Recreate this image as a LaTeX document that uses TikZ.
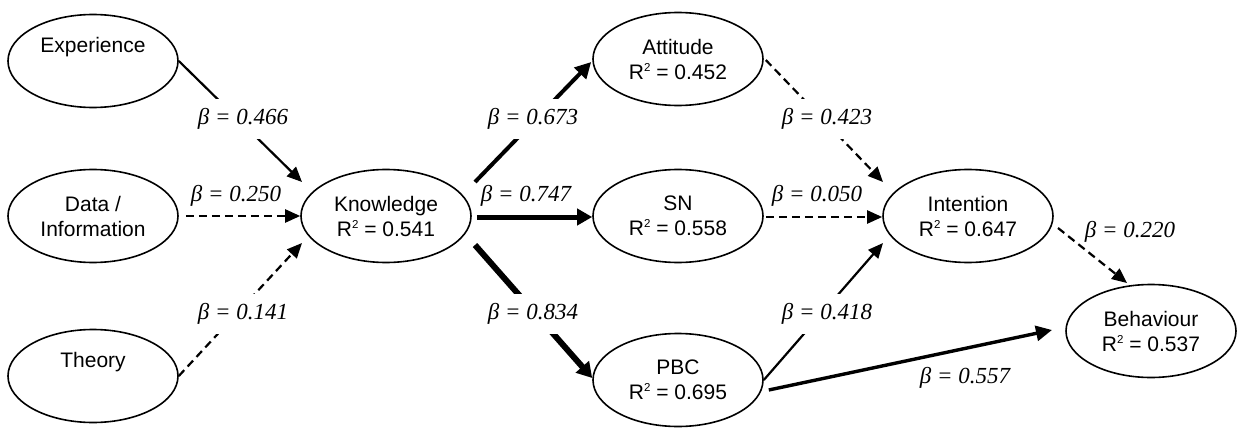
\documentclass[tikz,border=0pt]{standalone}
\usepackage{fontspec}
\setmainfont{Liberation Sans}
\newfontfamily\lblfont{Liberation Serif}
\usetikzlibrary{shapes.geometric,arrows.meta,calc}
\newcommand{\rsq}{R\raisebox{8pt}{\fontsize{11.5}{12}\selectfont 2}}
\begin{document}
\begin{tikzpicture}[x=1pt,y=-1pt,
  var/.style={ellipse,draw,line width=1.6pt,minimum width=170pt,minimum height=93pt,inner sep=0pt,align=center,font=\fontsize{21}{25}\selectfont},
  coef/.style={font=\lblfont\itshape\fontsize{23}{26}\selectfont,inner sep=2pt,fill=white},
  cut/.style={coef,inner ysep=9pt},
  dsh/.style={dash pattern=on 8pt off 5pt},
  aone/.style={line width=2.2pt,-{Triangle[length=15pt,width=13pt]}},
  abeh/.style={line width=3.4pt,-{Triangle[length=16pt,width=15pt]}},
  aatt/.style={line width=4pt,-{Triangle[length=16pt,width=16pt]}},
  asn/.style={line width=5pt,-{Triangle[length=15pt,width=16pt]}},
  apbc/.style={line width=6pt,-{Triangle[length=15pt,width=17pt]}},
]
\useasboundingbox (0,0) rectangle (1243,428);
\fill[white] (0,0) rectangle (1243,428);

\node[var] (exp) at (93,61) {Experience\\\strut};
\node[var] (data) at (93,216) {Data /\\Information};
\node[var] (theo) at (93,376) {Theory\\\strut};
\node[var] (know) at (386,216) {Knowledge\\\rsq{} = 0.541};
\node[var] (att) at (678,59) {Attitude\\\rsq{} = 0.452};
\node[var] (sn) at (678,216) {SN\\\rsq{} = 0.558};
\node[var] (pbc) at (678,380) {PBC\\\rsq{} = 0.695};
\node[var] (int) at (968,216) {Intention\\\rsq{} = 0.647};
\node[var] (beh) at (1151,331) {Behaviour\\\rsq{} = 0.537};

\draw[aone] (exp.east) -- ($(know)+(-84,-34)$);
\draw[aone,dsh] ($(data.east)+(7,0)$) -- (know.west);
\draw[aone,dsh] (theo.east) -- ($(know)+(-84,27)$);
\draw[aatt] ($(know)+(89,-34)$) -- ($(att.west)+(-1,3)$);
\draw[asn] ($(know.east)+(5,1)$) -- ($(sn.west)+(0,1)$);
\draw[apbc] ($(know)+(89,29)$) -- ($(pbc.west)+(0,-2)$);
\draw[aone,dsh] ($(att.east)+(2,1)$) -- ($(int)+(-85,-34)$);
\draw[aone,dsh] ($(sn.east)+(2,1)$) -- ($(int.west)+(0,1)$);
\draw[aone] (pbc.east) -- ($(int)+(-85,27)$);
\draw[abeh] ($(pbc.east)+(5,10)$) -- ($(beh)+(-99,-1)$);
\draw[aone,dsh] ($(int)+(90,12)$) -- ($(beh)+(-24,-48)$);

\node[cut] (l1) at (243,119) {β = 0.466};
\node[coef] (l2) at (236,196) {β = 0.250};
\node[cut] (l3) at (243,314) {β = 0.141};
\node[cut] (l4) at (533,119) {β = 0.673};
\node[coef] (l5) at (526,196) {β = 0.747};
\node[cut] (l6) at (533,314) {β = 0.834};
\node[cut] (l7) at (827,119) {β = 0.423};
\node[coef] (l8) at (817,196) {β = 0.050};
\node[cut] (l9) at (827,314) {β = 0.418};
\node[coef] (l10) at (1130,232) {β = 0.220};
\node[coef] (l11) at (965,378) {β = 0.557};
\end{tikzpicture}
\end{document}
